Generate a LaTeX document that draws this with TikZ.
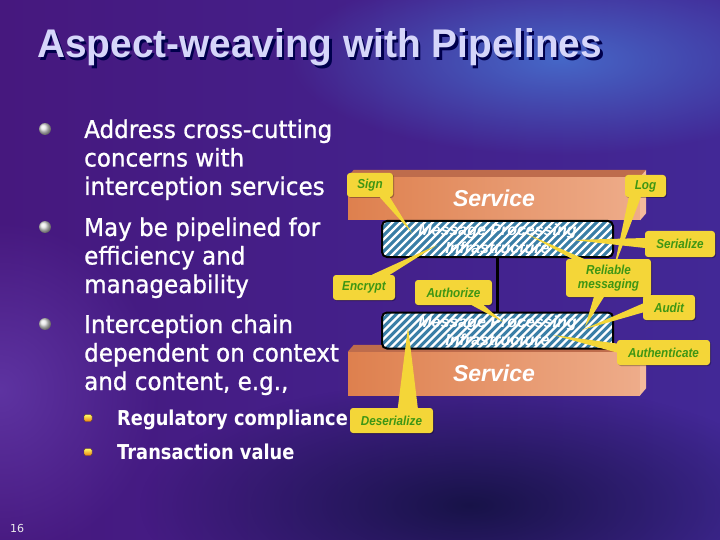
\documentclass[tikz,border=0pt]{standalone}
\usepackage{fontspec}
\setmainfont{DejaVu Sans}
\newfontfamily\titlefont[FakeStretch=0.97]{Liberation Sans}
\newfontfamily\bodyfont[FakeStretch=0.94,FakeBold=1]{DejaVu Sans}
\newfontfamily\subfont[FakeStretch=0.87]{DejaVu Sans}
\newfontfamily\tagfont[FakeStretch=0.9]{Liberation Sans}
\newfontfamily\boxfont{Liberation Sans}
\usetikzlibrary{calc,positioning,fadings,shadows}

\definecolor{slidepurple}{RGB}{70,24,126}
\definecolor{slideviolet}{RGB}{66,40,150}
\definecolor{slideblue}{RGB}{70,110,205}
\definecolor{slidelight}{RGB}{110,70,185}
\definecolor{slidedark}{RGB}{16,16,60}
\definecolor{titlelav}{RGB}{214,214,250}
\definecolor{peach}{RGB}{238,172,138}
\definecolor{peachdark}{RGB}{222,128,78}
\definecolor{peachtop}{RGB}{190,108,76}
\definecolor{peachside}{RGB}{244,186,156}
\definecolor{hatchblue}{RGB}{58,126,166}
\definecolor{tagyellow}{RGB}{244,214,56}
\definecolor{taggreen}{RGB}{62,150,20}

\tikzfading[name=glow, inner color=transparent!0, outer color=transparent!100]

\begin{document}
\begin{tikzpicture}[x=1pt,y=-1pt,
  line/.style={font=\bodyfont\fontsize{24.5}{28}\selectfont, text=white, anchor=base west, inner sep=0pt},
  subline/.style={font=\subfont\bfseries\fontsize{20.5}{24}\selectfont, text=white, anchor=base west, inner sep=0pt},
  dot/.style={circle, inner sep=0pt, minimum size=12pt, shade, ball color=gray!20},
  subdot/.style={rectangle, rounded corners=1.5pt, inner sep=0pt, minimum width=8pt, minimum height=7pt, top color=yellow!60!white, bottom color=orange!70!brown, draw=brown!60!black, line width=0.4pt},
  service/.style={minimum width=292pt, minimum height=43pt, inner sep=0pt, left color=peachdark, right color=peach, text=white, font=\boxfont\bfseries\itshape\fontsize{23}{26}\selectfont},
  mpi/.style={draw=black, line width=2pt, rounded corners=5pt, minimum width=231pt, minimum height=36pt, inner sep=0pt, fill=hatchblue, text=white, align=center, font=\boxfont\bfseries\itshape\fontsize{16}{18}\selectfont,
    path picture={\foreach \s in {-56,-48,...,245} \draw[white, line width=2.4pt] ([xshift=\s pt]path picture bounding box.south west) -- ++(56pt,56pt);}},
  tag/.style={fill=tagyellow, rounded corners=3pt, text=taggreen, align=center, inner sep=0pt, minimum height=24pt, font=\tagfont\bfseries\itshape\fontsize{13}{14}\selectfont, drop shadow={shadow xshift=1pt, shadow yshift=-1pt, fill=black, opacity=0.3}},
  wedge/.style={fill=tagyellow}]

\useasboundingbox (0,0) rectangle (720,540);
\begin{scope}
\clip (0,0) rectangle (720,540);
\fill[left color=slidepurple, right color=slideviolet] (0,0) rectangle (720,540);
\fill[slidelight, path fading=glow, opacity=0.6] (0,390) ellipse [x radius=160pt, y radius=170pt];
\fill[slideblue, path fading=glow, opacity=0.9] (560,60) ellipse [x radius=270pt, y radius=95pt];
\fill[slidedark, path fading=glow, opacity=0.85] (470,505) ellipse [x radius=330pt, y radius=125pt];
\end{scope}

\node[font=\titlefont\bfseries\fontsize{40}{44}\selectfont, text=black!70!blue, anchor=base west, inner sep=0pt] (titleshadow) at (39.5,60.5) {Aspect-weaving with Pipelines};
\node[font=\titlefont\bfseries\fontsize{40}{44}\selectfont, text=titlelav, anchor=base west, inner sep=0pt] (title) at (37,58) {Aspect-weaving with Pipelines};

\node[dot] (b1) at (45,129) {};
\node[dot] (b2) at (45,227) {};
\node[dot] (b3) at (45,324) {};
\node[line] (l1) at (84,138) {Address cross-cutting};
\node[line] (l2) at (84,166.5) {concerns with};
\node[line] (l3) at (84,195) {interception services};
\node[line] (l4) at (84,236) {May be pipelined for};
\node[line] (l5) at (84,264.5) {efficiency and};
\node[line] (l6) at (84,293) {manageability};
\node[line] (l7) at (84,333) {Interception chain};
\node[line] (l8) at (84,361.5) {dependent on context};
\node[line] (l9) at (84,390) {and content, e.g.,};
\node[subdot] (s1) at (88,418) {};
\node[subdot] (s2) at (88,452) {};
\node[subline] (r1) at (117,425) {Regulatory compliance};
\node[subline] (r2) at (117,459.5) {Transaction value};
\node[font=\fontsize{11}{12}\selectfont, text=gray!15, anchor=base west, inner sep=0pt] (page) at (10,532) {16};

\node[service] (svctop) at (494,198.5) {Service};
\fill[peachtop] (svctop.north west) -- ++(6pt,7pt) -- ([shift={(6pt,7pt)}]svctop.north east) -- (svctop.north east) -- cycle;
\fill[peachside] (svctop.north east) -- ++(6pt,7pt) -- ([shift={(6pt,7pt)}]svctop.south east) -- (svctop.south east) -- cycle;
\node[service] (svcbot) at (494,373.5) {Service};
\fill[peachtop] (svcbot.north west) -- ++(6pt,7pt) -- ([shift={(6pt,7pt)}]svcbot.north east) -- (svcbot.north east) -- cycle;
\fill[peachside] (svcbot.north east) -- ++(6pt,7pt) -- ([shift={(6pt,7pt)}]svcbot.south east) -- (svcbot.south east) -- cycle;

\node[mpi] (mpitop) at (497.5,239) {Message Processing\\Infrastructure};
\node[mpi] (mpibot) at (497.5,330.5) {Message Processing\\Infrastructure};
\draw[line width=2.5pt] (mpitop.south) -- (mpibot.north);

\coordinate (signtip) at (412,233);
\coordinate (enctip) at (437,245);
\coordinate (authztip) at (503,322);
\coordinate (desertip) at (408,327);
\coordinate (sertip) at (573,240);
\coordinate (logtip) at (614,268);
\coordinate (reluptip) at (527,234);
\coordinate (reldowntip) at (585,327);
\coordinate (audittip) at (582,330);
\coordinate (authntip) at (553,335);

\node[tag, minimum width=46pt] (sign) at (370,185) {Sign};
\fill[wedge] ([xshift=33pt]sign.south west) -- (signtip) -- ([xshift=43pt]sign.south west) -- cycle;
\node[tag, minimum width=62pt, minimum height=25pt] (encrypt) at (364,287.5) {Encrypt};
\fill[wedge] ([xshift=39pt]encrypt.north west) -- (enctip) -- ([xshift=57pt]encrypt.north west) -- cycle;
\node[tag, minimum width=77pt, minimum height=25pt] (authorize) at (453.5,292.5) {Authorize};
\fill[wedge] ([xshift=57pt]authorize.south west) -- (authztip) -- ([xshift=69pt]authorize.south west) -- cycle;
\node[tag, minimum width=83pt, minimum height=25pt] (deserialize) at (391.5,420.5) {Deserialize};
\fill[wedge] ([xshift=48pt]deserialize.north west) -- (desertip) -- ([xshift=68pt]deserialize.north west) -- cycle;
\node[tag, minimum width=70pt, minimum height=26pt] (serialize) at (680,244) {Serialize};
\fill[wedge] ([yshift=6pt]serialize.west) -- (sertip) -- ([yshift=-4pt]serialize.west) -- cycle;
\node[tag, minimum width=41pt, minimum height=22pt] (log) at (645.5,186) {Log};
\fill[wedge] ([xshift=4pt]log.south west) -- (logtip) -- ([xshift=16pt]log.south west) -- cycle;
\node[tag, minimum width=85pt, minimum height=38pt] (reliable) at (608.5,278) {Reliable\\messaging};
\fill[wedge] ([xshift=6pt]reliable.north west) -- (reluptip) -- ([xshift=18pt]reliable.north west) -- cycle;
\fill[wedge] ([xshift=28pt]reliable.south west) -- (reldowntip) -- ([xshift=38pt]reliable.south west) -- cycle;
\node[tag, minimum width=52pt, minimum height=25pt] (audit) at (669,307.5) {Audit};
\fill[wedge] ([yshift=4pt]audit.west) -- (audittip) -- ([yshift=-5pt]audit.west) -- cycle;
\node[tag, minimum width=93pt, minimum height=25pt] (authenticate) at (663.5,352.5) {Authenticate};
\fill[wedge] ([yshift=9pt]authenticate.west) -- (authntip) -- ([yshift=0pt]authenticate.west) -- cycle;

\end{tikzpicture}
\end{document}
